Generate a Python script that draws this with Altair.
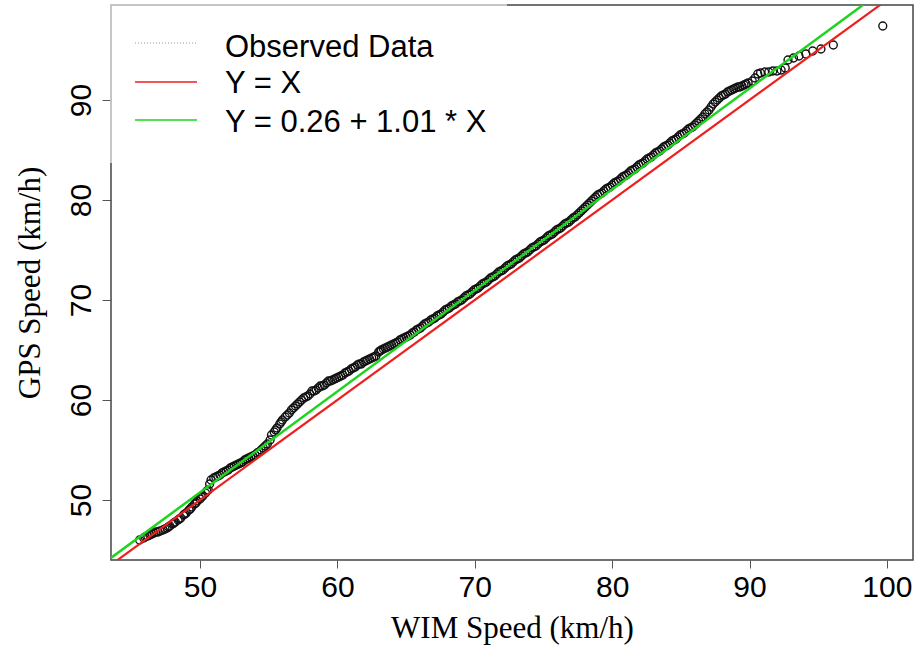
import altair as alt
import pandas as pd

wim = [45.6, 45.9, 46.2, 46.5, 46.8, 47.1, 47.3, 47.6, 47.8, 48.0, 48.2, 48.4, 48.6, 48.8,
       49.0, 49.2, 49.4, 49.6, 49.8, 50.0, 50.2, 50.4, 50.6, 50.7, 50.8, 51.0, 51.3, 51.6,
       51.9, 52.2, 52.5, 52.8, 53.1, 53.4, 53.7, 54.0, 54.3, 54.6, 54.9, 55.1, 55.2, 55.4,
       55.6, 55.8, 56.0, 56.2, 56.5, 56.8, 57.1, 57.4, 57.7, 58.0, 58.3, 58.6, 58.9, 59.2,
       59.5, 59.8, 60.1, 60.4, 60.7, 61.0, 61.3, 61.6, 61.9, 62.2, 62.5, 62.8, 63.0, 63.2,
       63.5, 63.8, 64.1, 64.4, 64.7, 65.0, 65.3, 65.6, 65.9, 66.2, 66.5, 66.8, 67.1, 67.4,
       67.7, 68.0, 68.3, 68.6, 68.9, 69.2, 69.5, 69.8, 70.1, 70.4, 70.7, 71.0, 71.3, 71.6,
       71.9, 72.2, 72.5, 72.8, 73.1, 73.4, 73.7, 74.0, 74.3, 74.6, 74.9, 75.2, 75.5, 75.8,
       76.1, 76.4, 76.7, 77.0, 77.3, 77.6, 77.9, 78.2, 78.5, 78.8, 79.1, 79.4, 79.7, 80.0,
       80.3, 80.6, 80.9, 81.2, 81.5, 81.8, 82.1, 82.4, 82.7, 83.0, 83.3, 83.6, 83.9, 84.2,
       84.5, 84.8, 85.1, 85.4, 85.7, 86.0, 86.3, 86.6, 86.9, 87.2, 87.5, 87.8, 88.1, 88.4,
       88.7, 89.0, 89.3, 89.6, 89.9, 90.2, 90.4, 90.6, 90.8, 91.1, 91.4, 91.7, 92.0, 92.3,
       92.6, 92.8, 93.2, 93.6, 94.1, 94.6, 95.2, 96.1, 99.7]
gps = [46.0, 46.2, 46.4, 46.6, 46.8, 46.9, 47.0, 47.2, 47.4, 47.6, 47.8, 48.0, 48.2, 48.5,
       48.7, 49.0, 49.3, 49.6, 49.9, 50.1, 50.4, 50.7, 51.0, 51.6, 52.0, 52.2, 52.4, 52.7,
       52.9, 53.2, 53.4, 53.6, 53.8, 54.1, 54.3, 54.5, 54.8, 55.2, 55.6, 56.0, 56.5, 56.8,
       57.2, 57.6, 58.0, 58.3, 58.7, 59.2, 59.6, 60.0, 60.3, 60.6, 60.9, 61.2, 61.4, 61.7,
       61.9, 62.1, 62.3, 62.5, 62.8, 63.1, 63.3, 63.6, 63.8, 64.0, 64.2, 64.4, 64.8, 65.0,
       65.2, 65.4, 65.6, 65.8, 66.1, 66.3, 66.5, 66.8, 67.1, 67.4, 67.7, 68.0, 68.2, 68.5,
       68.8, 69.1, 69.4, 69.6, 69.9, 70.2, 70.5, 70.8, 71.1, 71.4, 71.7, 72.0, 72.3, 72.6,
       72.9, 73.2, 73.5, 73.8, 74.1, 74.4, 74.7, 75.0, 75.3, 75.6, 75.9, 76.2, 76.5, 76.8,
       77.1, 77.4, 77.7, 78.0, 78.3, 78.7, 79.1, 79.5, 79.9, 80.3, 80.6, 80.9, 81.2, 81.5,
       81.8, 82.1, 82.4, 82.7, 83.0, 83.3, 83.6, 83.9, 84.2, 84.5, 84.8, 85.1, 85.4, 85.7,
       86.0, 86.3, 86.6, 86.9, 87.2, 87.5, 87.9, 88.3, 88.8, 89.3, 89.8, 90.2, 90.5, 90.8,
       91.0, 91.2, 91.3, 91.5, 91.7, 91.9, 92.2, 92.6, 92.7, 92.8, 92.8, 92.9, 92.9, 93.0,
       93.2, 94.0, 94.2, 94.4, 94.6, 94.9, 95.1, 95.5, 97.4]

# Further observations in the dense part of the band
wim_more = [46.0, 46.35, 46.65, 46.95, 47.45, 47.7, 48.1, 48.5, 48.9, 49.3, 49.7, 50.1, 50.5,
            51.15, 51.45, 51.75, 52.05, 52.35, 52.65, 52.95, 53.25, 53.55, 53.85, 54.15,
            54.45, 54.75, 55.5, 55.9, 56.35, 56.65, 56.95, 57.25, 57.55, 57.85,
            58.15, 58.45, 58.75, 59.05, 59.35, 59.65, 59.95, 60.25, 60.55, 60.85, 61.15,
            61.45, 61.75, 62.05, 62.35, 62.65, 63.1, 63.35, 63.65, 63.95, 64.25, 64.55,
            64.85, 65.15, 65.45, 65.75, 66.05, 66.35, 66.65, 66.95, 67.25, 67.55, 67.85,
            68.15, 68.45, 68.75, 69.05, 69.35, 69.65, 69.95, 70.25, 70.55, 70.85, 71.15,
            71.45, 71.75, 72.05, 72.35, 72.65, 72.95, 73.25, 73.55, 73.85, 74.15, 74.45,
            74.75, 75.05, 75.35, 75.65, 75.95, 76.25, 76.55, 76.85, 77.15, 77.45, 77.75,
            78.05, 78.35, 78.65, 78.95, 79.25, 79.55, 79.85, 80.15, 80.45, 80.75, 81.05,
            81.35, 81.65, 81.95, 82.25, 82.55, 82.85, 83.15, 83.45, 83.75, 84.05, 84.35,
            84.65, 84.95, 85.25, 85.55, 85.85, 86.15, 86.45, 86.75, 87.05, 87.35, 87.65,
            87.95, 88.25, 88.55, 88.85, 89.15, 89.45, 89.75]
gps_more = [46.3, 46.5, 46.7, 46.8, 47.1, 47.3, 47.7, 48.1, 48.6, 49.1, 49.7, 50.3, 50.9,
            52.3, 52.5, 52.8, 53.0, 53.3, 53.5, 53.7, 54.0, 54.2, 54.4, 54.7,
            55.0, 55.4, 57.0, 57.8, 58.5, 59.0, 59.4, 59.8, 60.2, 60.4,
            60.9, 61.0, 61.4, 61.5, 61.9, 62.0, 62.2, 62.4, 62.7, 62.9, 63.2,
            63.5, 63.6, 63.9, 64.1, 64.3, 64.9, 65.1, 65.3, 65.5, 65.7, 66.0,
            66.2, 66.4, 66.7, 67.0, 67.2, 67.6, 67.8, 68.1, 68.4, 68.6, 69.0,
            69.2, 69.5, 69.8, 70.0, 70.4, 70.6, 71.0, 71.2, 71.6, 71.8, 72.2,
            72.4, 72.8, 73.0, 73.4, 73.6, 74.0, 74.2, 74.6, 74.8, 75.2, 75.4,
            75.8, 76.0, 76.4, 76.6, 77.0, 77.2, 77.6, 77.8, 78.2, 78.5, 78.9,
            79.3, 79.7, 80.1, 80.5, 80.7, 81.1, 81.3, 81.7, 81.9, 82.3, 82.5,
            82.9, 83.1, 83.5, 83.7, 84.1, 84.3, 84.7, 84.9, 85.3, 85.5, 85.9,
            86.1, 86.5, 86.7, 87.1, 87.3, 87.7, 88.1, 88.6, 89.0, 89.6, 90.0,
            90.4, 90.6, 90.9, 91.1, 91.3, 91.4, 91.6]

# Reference lines (endpoints beyond the plotted range; clipped)
line_x = [40.0, 105.0]
identity_y = [40.0, 105.0]          # Y = X
fit_y = [40.66, 106.31]             # Y = 0.26 + 1.01 * X

x_ticks = [50, 60, 70, 80, 90, 100]
y_ticks = [50, 60, 70, 80, 90]

legend_labels = ["Observed Data", "Y = X", "Y = 0.26 + 1.01 * X"]

obs = pd.DataFrame({"wim": wim + wim_more, "gps": gps + gps_more})
red_df = pd.DataFrame({"wim": line_x, "gps": identity_y})
green_df = pd.DataFrame({"wim": line_x, "gps": fit_y})

SANS = "Liberation Sans"
SERIF = "Liberation Serif"

xscale = alt.Scale(domain=[43.52, 101.9], nice=False, zero=False)
yscale = alt.Scale(domain=[44.0, 99.5], nice=False, zero=False)

xaxis = alt.Axis(values=x_ticks, title="WIM Speed (km/h)", grid=False, domain=False,
                 tickSize=8, tickColor="#555", labelFontSize=30, labelFont=SANS,
                 labelColor="black", labelPadding=4, titleFont=SERIF, titleFontSize=31,
                 titleFontWeight="normal", titleColor="black", titleY=77,
                 titleBaseline="alphabetic")
yaxis = alt.Axis(values=y_ticks, title="GPS Speed (km/h)", grid=False, domain=False,
                 tickSize=9, tickColor="#555", labelFontSize=30, labelFont=SANS,
                 labelColor="black", labelAngle=270, labelAlign="center",
                 labelBaseline="bottom", labelPadding=6, titleFont=SERIF,
                 titleFontSize=31, titleFontWeight="normal", titleColor="black",
                 titleAngle=270, titleX=-81, titleY=277.5, titleBaseline="middle",
                 titleAlign="center")

points = alt.Chart(obs).mark_point(shape="circle", filled=False, color="#111",
                                   size=62, strokeWidth=1.4, opacity=1).encode(
    x=alt.X("wim:Q", scale=xscale, axis=xaxis),
    y=alt.Y("gps:Q", scale=yscale, axis=yaxis),
)

red_line = alt.Chart(red_df).mark_line(color="#ee1f1f", strokeWidth=2.2, clip=True).encode(
    x=alt.X("wim:Q", scale=xscale), y=alt.Y("gps:Q", scale=yscale))
green_line = alt.Chart(green_df).mark_line(color="#1ed41e", strokeWidth=2.5, clip=True).encode(
    x=alt.X("wim:Q", scale=xscale), y=alt.Y("gps:Q", scale=yscale))

one = alt.Data(values=[{}])

legend_box = alt.Chart(one).mark_rect(fill="white", opacity=0.6).encode(
    x=alt.value(-1), x2=alt.value(396), y=alt.value(-1), y2=alt.value(158))

sym_obs = alt.Chart(one).mark_rule(color="#999", strokeWidth=1.2, strokeDash=[1, 2]).encode(
    x=alt.value(24), x2=alt.value(86), y=alt.value(38))
sym_red = alt.Chart(one).mark_rule(color="#ee1f1f", strokeWidth=1.4).encode(
    x=alt.value(24), x2=alt.value(86), y=alt.value(77))
sym_green = alt.Chart(one).mark_rule(color="#1ed41e", strokeWidth=1.4).encode(
    x=alt.value(24), x2=alt.value(86), y=alt.value(115))

legend_texts = []
for lab, yy in zip(legend_labels, [52, 88, 127]):
    legend_texts.append(
        alt.Chart(one).mark_text(align="left", baseline="alphabetic", font=SANS,
                                 fontSize=31, color="black").encode(
            x=alt.value(114), y=alt.value(yy), text=alt.value(lab)))

chart = alt.layer(points, red_line, green_line, legend_box, sym_obs, sym_red, sym_green,
                  *legend_texts).properties(
    width=802, height=555,
    autosize=alt.AutoSizeParams(type="none"),
    padding={"left": 111, "top": 5, "right": 4, "bottom": 85},
    background="white",
).configure_view(stroke="#444", strokeWidth=1.5)

chart.save("out.html", embed_options={"renderer": "svg", "actions": False})
